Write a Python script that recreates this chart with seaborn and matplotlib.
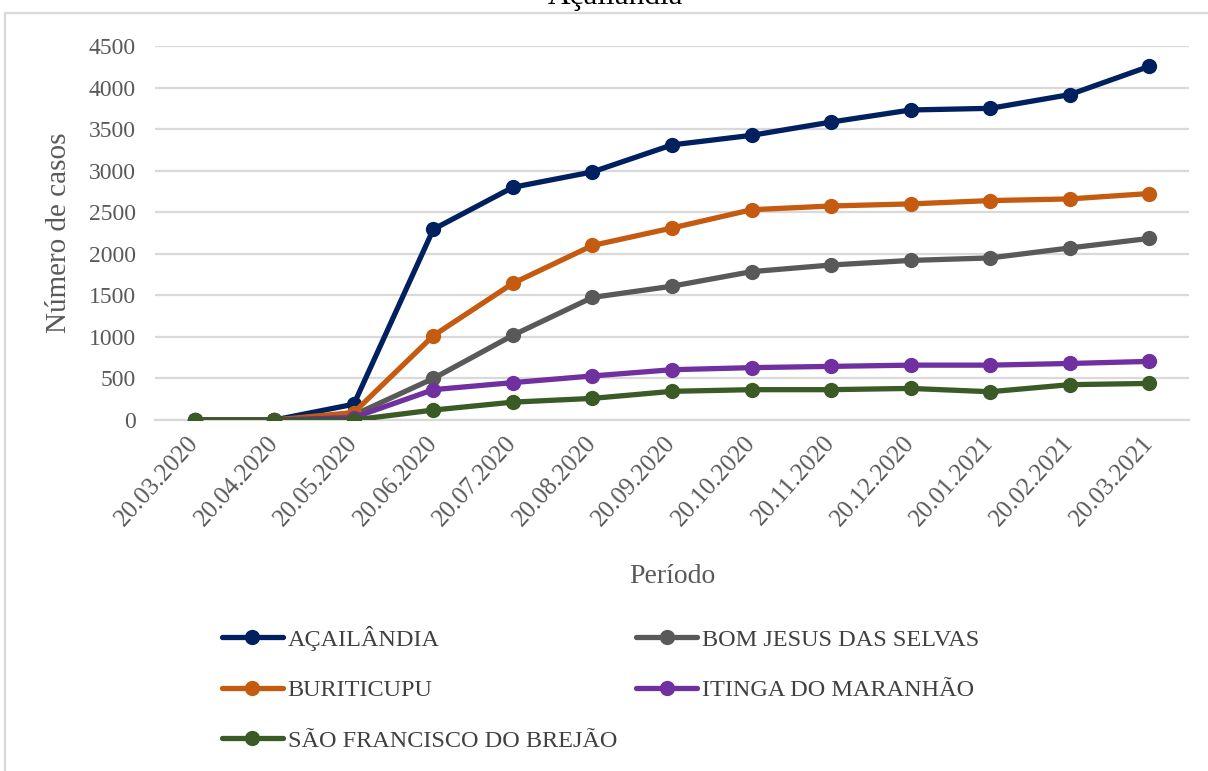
import numpy as np
import pandas as pd
import seaborn as sns
import matplotlib.pyplot as plt
from matplotlib.patches import Rectangle

periodos = ['20.03.2020', '20.04.2020', '20.05.2020', '20.06.2020', '20.07.2020',
            '20.08.2020', '20.09.2020', '20.10.2020', '20.11.2020', '20.12.2020',
            '20.01.2021', '20.02.2021', '20.03.2021']

acailandia = [0, 0, 190, 2295, 2800, 2985, 3310, 3425, 3585, 3730, 3750, 3915, 4255]
bom_jesus = [0, 0, 60, 500, 1020, 1475, 1610, 1785, 1865, 1920, 1950, 2070, 2185]
buriticupu = [0, 0, 90, 1015, 1645, 2100, 2310, 2530, 2575, 2600, 2640, 2660, 2725]
itinga = [0, 0, 30, 365, 450, 530, 605, 630, 645, 660, 660, 680, 705]
sao_francisco = [0, 0, 0, 120, 215, 260, 345, 365, 365, 380, 340, 425, 440]

municipios = ['AÇAILÂNDIA', 'BOM JESUS DAS SELVAS', 'BURITICUPU',
              'ITINGA DO MARANHÃO', 'SÃO FRANCISCO DO BREJÃO']
series = [acailandia, bom_jesus, buriticupu, itinga, sao_francisco]
cores = ['#002060', '#595959', '#C55A11', '#7030A0', '#3A5A26']

rows = []
for nome, valores in zip(municipios, series):
    for p, v in zip(periodos, valores):
        rows.append({'periodo': p, 'casos': v, 'municipio': nome})
df = pd.DataFrame(rows)

sns.set_theme(style='white')
plt.rcParams['font.family'] = ['Liberation Serif', 'DejaVu Serif']

fig = plt.figure(figsize=(12.08, 7.71), dpi=100)
ax = fig.add_axes([155 / 1208, 1 - 420 / 771, (1189 - 155) / 1208, (420 - 46) / 771])

sns.lineplot(data=df, x='periodo', y='casos', hue='municipio', hue_order=municipios,
             palette=cores, marker='o', markersize=11, markeredgewidth=0,
             linewidth=3.8, sort=False, ax=ax, legend=False, zorder=3)

ax.set_xlim(-0.5, len(periodos) - 0.5)
ax.set_ylim(0, 4500)
ax.set_yticks(np.arange(0, 4501, 500))
ax.yaxis.grid(True, color='#D9D9D9', linewidth=1.6)
ax.set_axisbelow(True)
for s in ['left', 'right', 'top']:
    ax.spines[s].set_visible(False)
ax.spines['bottom'].set_color('#D9D9D9')
ax.spines['bottom'].set_linewidth(1.6)

ax.set_xticks(range(len(periodos)))
ax.set_xticklabels(periodos, rotation=48, ha='right', va='center', rotation_mode='anchor')
ax.set_xticks(np.arange(-0.5, len(periodos)), minor=True)
ax.tick_params(axis='x', which='major', length=0, pad=14, labelsize=18, labelcolor='#595959')
ax.tick_params(axis='x', which='minor', length=8, width=1.6, color='#D9D9D9', direction='out')
ax.tick_params(axis='y', length=0, pad=14, labelsize=17, labelcolor='#595959')

ax.set_xlabel('Período', fontsize=20, color='#595959', labelpad=24)
ax.set_ylabel('Número de casos', fontsize=21, color='#595959', labelpad=12)

# legend, laid out row by row
handles = [plt.Line2D([], [], color=c, marker='o', markersize=11, markeredgewidth=0,
                      linewidth=3.8) for c in cores]
ordem = [0, 2, 4, 1, 3]
leg = fig.legend([handles[i] for i in ordem], [municipios[i] for i in ordem],
                 ncol=2, frameon=False, loc='upper left',
                 bbox_to_anchor=(200 / 1208, 1 - 604 / 771),
                 fontsize=17.5, handlelength=2.5, labelspacing=1.17,
                 columnspacing=0.8, handletextpad=0.2)
for t in leg.get_texts():
    t.set_color('#404040')

fig.text(615 / 1208, 1 - 4 / 771, 'Açailândia', ha='center', va='baseline',
         fontsize=22.5, color='#000000')
fig.patches.append(Rectangle((5 / 1208, -0.1), 1.2, 1 - 13 / 771 + 0.1,
                             transform=fig.transFigure, fill=False,
                             edgecolor='#D9D9D9', linewidth=1.6))

fig.savefig('out.png', dpi=100)
